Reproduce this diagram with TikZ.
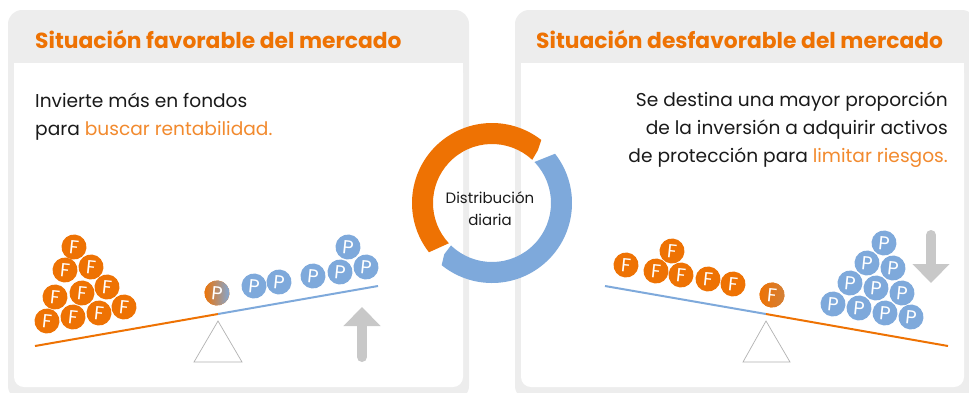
\documentclass[tikz,border=0pt]{standalone}
\usepackage{fontspec}
\setmainfont{Poppins}
\usetikzlibrary{arrows.meta}
\usetikzlibrary{positioning}
\definecolor{mkOrange}{HTML}{EE7203}
\definecolor{mkBlue}{HTML}{7EA9DB}
\definecolor{panelGrey}{HTML}{EDEDED}
\definecolor{arrowGrey}{HTML}{C8C8C8}
\definecolor{inkText}{HTML}{1A1A1A}
\definecolor{softOrange}{HTML}{F28A2E}
\tikzset{
  coinF/.style={circle,fill=mkOrange,minimum size=25pt,inner sep=0pt,text=white,rotate=-6,font=\fontsize{19}{19}\selectfont},
  coinP/.style={coinF,fill=mkBlue},
  headText/.style={anchor=base west,inner sep=0pt,text=mkOrange,font=\fontsize{21.8}{26}\selectfont\bfseries},
  descText/.style={inner sep=0pt,text=inkText,font=\fontsize{18.6}{28}\selectfont},
  beam/.style={line width=2pt},
  pivot/.style={draw=gray!60,line width=0.7pt,fill=white},
  moveArrow/.style={arrowGrey,line width=10pt,line cap=round,-{Triangle[width=36pt,length=19pt]}},
}
\begin{document}
\begin{tikzpicture}[x=1pt,y=-1pt]
\useasboundingbox (0,0) rectangle (969,392);
% panels
\fill[panelGrey,rounded corners=14pt] (8,10) rectangle (469,400);
\fill[white,rounded corners=10pt] (14,63) rectangle (463,387);
\fill[white] (14,63) rectangle (463,100);
\fill[panelGrey,rounded corners=14pt] (515,10) rectangle (976,400);
\fill[white,rounded corners=10pt] (521,63) rectangle (964,387);
\fill[white] (521,63) rectangle (964,100);

% titles and texts
\node[headText] (favTitle) at (35,48) {Situación favorable del mercado};
\node[headText] (desTitle) at (536,48) {Situación desfavorable del mercado};
\node[descText,anchor=base west] (favLine1) at (35,107) {Invierte más en fondos};
\node[descText,anchor=base west] (favLine2) at (35,135) {para \textcolor{softOrange}{buscar rentabilidad.}};
\node[descText,anchor=base east] (desLine1) at (948,106) {Se destina una mayor proporción};
\node[descText,anchor=base east] (desLine2) at (948,134) {de la inversión a adquirir activos};
\node[descText,anchor=base east] (desLine3) at (948,162) {de protección para \textcolor{softOrange}{limitar riesgos.}};

% daily cycle
\begin{scope}[shift={(492,203)}]
\fill[mkOrange] (-218:80) arc[start angle=-218,end angle=-52,radius=80] -- (-49:70) -- (-47:59) arc[start angle=-47,end angle=-223,radius=59] -- cycle;
\fill[mkBlue] (-38:80) arc[start angle=-38,end angle=129,radius=80] -- (133:70) -- (134:59) arc[start angle=134,end angle=-44,radius=59] -- cycle;
\end{scope}
\node[anchor=base,inner sep=0pt,text=inkText,font=\fontsize{15}{16}\selectfont] (cycleTop) at (490,203) {Distribución};
\node[anchor=base,inner sep=0pt,text=inkText,font=\fontsize{15}{16}\selectfont] (cycleBot) at (490,225) {diaria};

% left balance
\coordinate (favLeft) at (35,346);
\coordinate (favPivot) at (218,314);
\coordinate (favRight) at (378,286);
\draw[beam,mkOrange] (favLeft) -- (favPivot);
\draw[beam,mkBlue] (favPivot) -- (favRight);
\draw[pivot] (218,321) -- (194,362) -- (242,362) -- cycle;
\foreach \x/\y [count=\i] in {74/247,65/270,91/267,55/297,82/293,107/287,47/321,73/317,99/313,124/307}
  \node[coinF] (favF\i) at (\x,\y) {F};
\foreach \x/\y [count=\i] in {254/286,279/282,313/276,340/272,366/267,348/247}
  \node[coinP] (favP\i) at (\x,\y) {P};
\node[coinF,left color=mkOrange,right color=mkBlue] (favMix) at (217,293) {P};
\draw[moveArrow] (362,357) -- (362,307);

% right balance
\coordinate (desLeft) at (605,286);
\coordinate (desPivot) at (766,314);
\coordinate (desRight) at (948,346);
\draw[beam,mkBlue] (desLeft) -- (desPivot);
\draw[beam,mkOrange] (desPivot) -- (desRight);
\draw[pivot] (766,321) -- (743,362) -- (790,362) -- cycle;
\foreach \x/\y [count=\i] in {626/265,672/251,656/271,681/275,708/279,733/284}
  \node[coinF] (desF\i) at (\x,\y) {F};
\node[coinF,left color=mkOrange,right color=mkOrange!75!mkBlue] (desMix) at (772,295) {F};
\foreach \x/\y [count=\i] in {884/243,867/263,893/268,850/283,876/288,902/293,833/304,859/308,885/313,911/317}
  \node[coinP] (desP\i) at (\x,\y) {P};
\draw[moveArrow] (931,235) -- (931,283);

\end{tikzpicture}
\end{document}
